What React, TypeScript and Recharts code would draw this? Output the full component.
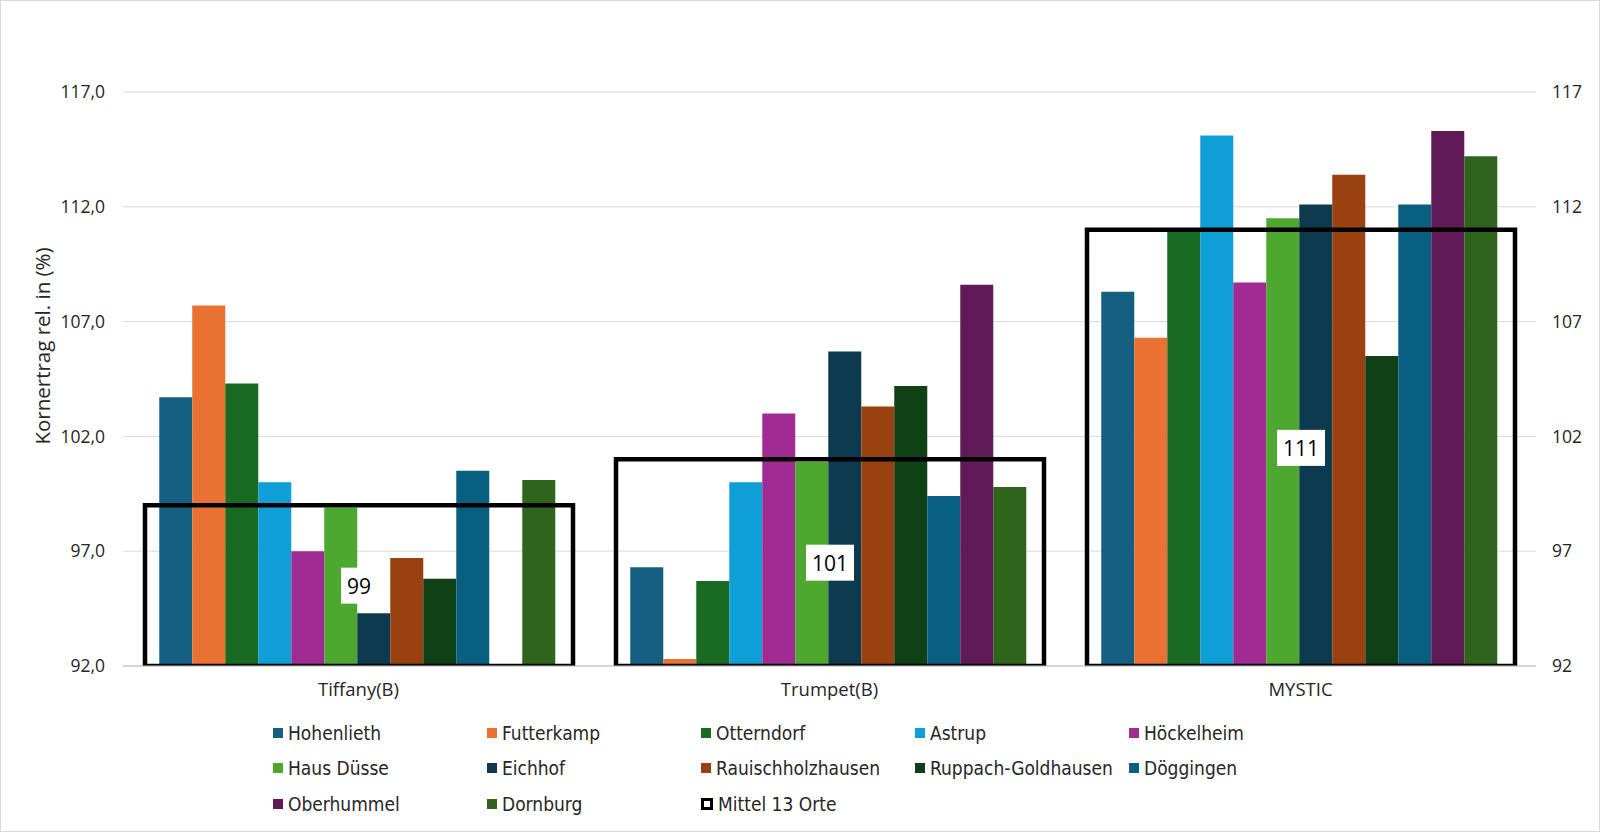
import { BarChart, Bar, XAxis, YAxis, CartesianGrid } from "recharts";

const CATEGORIES = ["Tiffany(B)", "Trumpet(B)", "MYSTIC"];

const HOHENLIETH = [103.7, 96.3, 108.3];
const FUTTERKAMP = [107.7, 92.3, 106.3];
const OTTERNDORF = [104.3, 95.7, 110.9];
const ASTRUP = [100.0, 100.0, 115.1];
const HOECKELHEIM = [97.0, 103.0, 108.7];
const HAUS_DUESSE = [98.9, 100.9, 111.5];
const EICHHOF = [94.3, 105.7, 112.1];
const RAUISCHHOLZHAUSEN = [96.7, 103.3, 113.4];
const RUPPACH = [95.8, 104.2, 105.5];
const DOEGGINGEN = [100.5, 99.4, 112.1];
const OBERHUMMEL = [null, 108.6, 115.3];
const DORNBURG = [100.1, 99.8, 114.2];
const MITTEL = [99, 101, 111];

const Y_TICKS = [92, 97, 102, 107, 112, 117];

const SERIES = [
  { name: "Hohenlieth", values: HOHENLIETH, color: "#156082" },
  { name: "Futterkamp", values: FUTTERKAMP, color: "#E97132" },
  { name: "Otterndorf", values: OTTERNDORF, color: "#196B24" },
  { name: "Astrup", values: ASTRUP, color: "#0F9ED5" },
  { name: "Höckelheim", values: HOECKELHEIM, color: "#A02B93" },
  { name: "Haus Düsse", values: HAUS_DUESSE, color: "#4EA72E" },
  { name: "Eichhof", values: EICHHOF, color: "#0D3A4E" },
  { name: "Rauischholzhausen", values: RAUISCHHOLZHAUSEN, color: "#994111" },
  { name: "Ruppach-Goldhausen", values: RUPPACH, color: "#0F4016" },
  { name: "Döggingen", values: DOEGGINGEN, color: "#095F80" },
  { name: "Oberhummel", values: OBERHUMMEL, color: "#601A58" },
  { name: "Dornburg", values: DORNBURG, color: "#2F641C" },
];

const MITTEL_NAME = "Mittel 13 Orte";

const data = CATEGORIES.map((cat, i) => {
  const row: Record<string, string | number | null> = { cat };
  SERIES.forEach((s) => {
    row[s.name] = s.values[i];
  });
  row[MITTEL_NAME] = MITTEL[i];
  return row;
});

const TICK_FONT = "'Open Sans', sans-serif";
const LEGEND_FONT = "'DejaVu Sans Condensed', 'DejaVu Sans', sans-serif";

function MittelLabel(props: any) {
  const { x, y, width, height, value } = props;
  const cx = x + width / 2;
  const cy = y + height / 2;
  const w = String(value).length * 12 + 12;
  return (
    <g>
      <rect x={cx - w / 2} y={cy - 18} width={w} height={36} fill="#ffffff" />
      <text
        x={cx}
        y={cy}
        textAnchor="middle"
        dominantBaseline="central"
        fontSize={21}
        fontFamily={TICK_FONT}
        fill="#000"
      >
        {value}
      </text>
    </g>
  );
}

function YTitle() {
  return (
    <text
      x={41}
      y={345}
      transform="rotate(-90 41 345)"
      textAnchor="middle"
      dominantBaseline="central"
      fontSize={20.5}
      fontFamily={TICK_FONT}
      fill="#262626"
    >
      Kornertrag rel. in (%)
    </text>
  );
}

function ChartLegend() {
  const items = [
    ...SERIES.map((s) => ({ name: s.name, color: s.color, box: false })),
    { name: MITTEL_NAME, color: "#000", box: true },
  ];
  return (
    <div
      style={{
        position: "absolute",
        left: 272,
        top: 714,
        display: "grid",
        gridTemplateColumns: "repeat(5, 214px)",
        gridAutoRows: "35.5px",
        fontFamily: LEGEND_FONT,
        fontStretch: "condensed",
        fontSize: 19,
        color: "#262626",
      }}
    >
      {items.map((it) => (
        <div
          key={it.name}
          style={{ display: "flex", alignItems: "center", whiteSpace: "nowrap" }}
        >
          <span
            style={{
              display: "inline-block",
              width: it.box ? 6 : 10,
              height: it.box ? 6 : 10,
              background: it.box ? "#fff" : it.color,
              border: it.box ? "3px solid #000" : "none",
              marginRight: 5,
            }}
          />
          {it.name}
        </div>
      ))}
    </div>
  );
}

export default function App() {
  return (
    <div
      style={{
        position: "absolute",
        left: 0,
        top: 0,
        width: 1600,
        height: 832,
        background: "#fff",
        border: "1px solid #d9d9d9",
        boxSizing: "border-box",
        overflow: "hidden",
      }}
    >
      <BarChart
        width={1598}
        height={830}
        data={data}
        margin={{ top: 91, right: 3, left: 42, bottom: 135 }}
        barCategoryGap="7.7%"
        barGap={0}
      >
        <CartesianGrid
          vertical={false}
          stroke="#d9d9d9"
          xAxisId="main"
          yAxisId="left"
        />
        <XAxis xAxisId="m" dataKey="cat" hide height={0} />
        <XAxis
          xAxisId="main"
          dataKey="cat"
          height={30}
          tickLine={false}
          axisLine={{ stroke: "#bfbfbf" }}
          tick={{ fill: "#262626", fontSize: 18.5, fontFamily: TICK_FONT }}
          tickMargin={11}
        />
        <YAxis
          yAxisId="left"
          width={80}
          domain={[92, 117]}
          ticks={Y_TICKS}
          allowDataOverflow
          axisLine={false}
          tickLine={false}
          tickMargin={12}
          tickFormatter={(v: number) => v.toFixed(1).replace(".", ",")}
          tick={{ fill: "#262626", fontSize: 17.5, fontFamily: TICK_FONT }}
          label={{ content: () => <YTitle /> }}
        />
        <YAxis
          yAxisId="right"
          orientation="right"
          width={60}
          domain={[92, 117]}
          ticks={Y_TICKS}
          allowDataOverflow
          axisLine={false}
          tickLine={false}
          tickMargin={10}
          tickFormatter={(v: number) => String(v)}
          tick={{ fill: "#262626", fontSize: 17.5, fontFamily: TICK_FONT }}
        />
        {SERIES.map((s) => (
          <Bar
            key={s.name}
            dataKey={s.name}
            xAxisId="main"
            yAxisId="left"
            fill={s.color}
            isAnimationActive={false}
          />
        ))}
        <Bar
          dataKey={MITTEL_NAME}
          xAxisId="m"
          yAxisId="left"
          barSize={428}
          fill="none"
          stroke="#000"
          strokeWidth={4.5}
          isAnimationActive={false}
          label={<MittelLabel />}
        />
      </BarChart>
      <ChartLegend />
    </div>
  );
}
